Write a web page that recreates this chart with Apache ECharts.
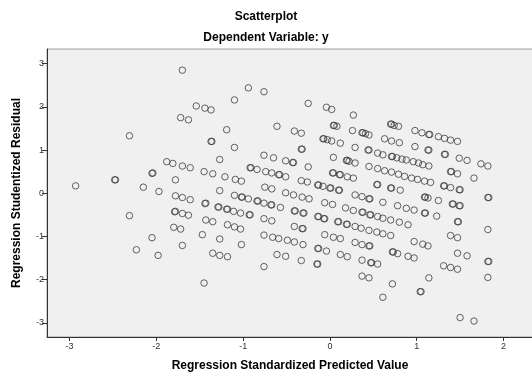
<!DOCTYPE html>
<html>
<head>
<meta charset="utf-8">
<script src="https://cdn.jsdelivr.net/npm/echarts@6/dist/echarts.min.js"></script>
<style>
  html, body { margin: 0; padding: 0; background: #fff; }
  #chart { width: 532px; height: 373px; }
</style>
</head>
<body>
<div id="chart"></div>
<script>
const xTicks = [-3, -2, -1, 0, 1, 2]
const yTicks = [-3, -2, -1, 0, 1, 2, 3]

// [standardized predicted value, studentized residual]
const farLeftPoints = [
  [-2.93, 0.17], [-2.48, 0.31], [-2.47, 0.31], [-2.31, 1.33], [-2.31, -0.52], [-2.23, -1.31],
  [-2.15, 0.14], [-2.05, 0.46], [-2.04, 0.47], [-2.05, -1.03], [-1.98, -1.44], [-1.97, 0.04],
  [-1.88, 0.73],
]

const leftPoints = [
  [-1.81, 0.69], [-1.78, 0.31], [-1.78, -0.06], [-1.79, -0.43], [-1.78, -0.42], [-1.80, -0.79],
  [-1.72, -0.83], [-1.70, 2.85], [-1.72, 1.75], [-1.63, 1.70], [-1.70, 0.63], [-1.61, 0.59],
  [-1.70, -0.10], [-1.61, -0.15], [-1.70, -0.47], [-1.63, -0.51], [-1.70, -1.21], [-1.54, 2.02],
  [-1.44, 1.97], [-1.37, 1.93], [-1.45, 0.50], [-1.35, 0.45], [-1.44, -0.24], [-1.43, -0.23],
  [-1.43, -0.62], [-1.35, -0.66], [-1.47, -0.96], [-1.45, -2.08], [-1.19, 1.47], [-1.37, 1.20],
  [-1.36, 1.20], [-1.10, 2.16], [-1.10, 1.06], [-1.27, 0.78], [-1.21, 0.38], [-1.09, 0.32],
  [-1.02, 0.28], [-1.27, 0.06], [-1.10, -0.05], [-1.02, -0.09], [-1.01, -0.09], [-0.94, -0.13],
  [-1.29, -0.32], [-1.28, -0.32], [-1.19, -0.37], [-1.18, -0.37], [-1.11, -0.42], [-1.03, -0.46],
  [-0.93, -0.50], [-0.92, -0.50], [-1.18, -0.73], [-1.10, -0.78], [-1.03, -0.83], [-1.27, -1.06],
  [-1.02, -1.19], [-1.35, -1.39], [-1.27, -1.44], [-1.18, -1.47], [-0.94, 2.44],
]

const middlePoints = [
  [-0.76, 2.35], [-0.25, 2.08], [-0.04, 1.99], [0.02, 1.94], [-0.61, 1.55], [-0.41, 1.44],
  [-0.33, 1.39], [0.04, 1.57], [0.05, 1.57], [0.08, 1.55], [-0.33, 1.02], [-0.32, 1.02],
  [-0.08, 1.26], [-0.07, 1.26], [-0.03, 1.24], [0.02, 1.21], [0.12, 1.16], [-0.76, 0.88],
  [-0.65, 0.82], [-0.51, 0.75], [-0.43, 0.71], [-0.42, 0.71], [-0.25, 0.61], [0.04, 0.83],
  [0.19, 0.76], [0.20, 0.76], [0.22, 0.74], [-0.92, 0.59], [-0.91, 0.59], [-0.84, 0.55],
  [-0.74, 0.50], [-0.67, 0.47], [-0.59, 0.43], [-0.58, 0.43], [-0.51, 0.38], [0.03, 0.47],
  [0.04, 0.47], [0.11, 0.43], [0.12, 0.43], [0.20, 0.38], [-0.33, 0.29], [-0.26, 0.26],
  [-0.14, 0.19], [-0.13, 0.19], [-0.08, 0.16], [0.00, 0.12], [0.01, 0.12], [0.10, 0.07],
  [0.11, 0.07], [-0.75, 0.14], [-0.67, 0.10], [-0.51, 0.01], [-0.42, -0.04], [-0.32, -0.09],
  [-0.24, -0.13], [-0.84, -0.18], [-0.83, -0.18], [-0.76, -0.23], [-0.68, -0.27], [-0.67, -0.27],
  [-0.57, -0.33], [-0.06, -0.22], [0.03, -0.26], [0.18, -0.34], [0.27, -0.40], [-0.41, -0.41],
  [-0.40, -0.41], [-0.31, -0.46], [-0.30, -0.46], [-0.76, -0.59], [-0.67, -0.64], [-0.14, -0.54],
  [-0.13, -0.54], [-0.07, -0.59], [-0.06, -0.59], [0.09, -0.66], [0.10, -0.66], [0.19, -0.72],
  [0.20, -0.72], [-0.41, -0.77], [-0.32, -0.82], [-0.31, -0.82], [-0.76, -0.97], [-0.66, -1.02],
  [-0.59, -1.05], [-0.49, -1.09], [-0.41, -1.13], [-0.31, -1.19], [-0.06, -0.96], [0.04, -1.02],
  [0.12, -1.05], [-0.14, -1.28], [-0.13, -1.28], [-0.04, -1.34], [0.12, -1.42], [0.20, -1.47],
  [-0.61, -1.42], [-0.51, -1.46], [-0.33, -1.56], [-0.15, -1.64], [-0.14, -1.64], [-0.76, -1.70],
]

const rightPoints = [
  [0.27, 1.81], [0.26, 1.45], [0.37, 1.40], [0.38, 1.40], [0.41, 1.38], [0.45, 1.35],
  [0.70, 1.60], [0.71, 1.60], [0.74, 1.57], [0.79, 1.55], [0.98, 1.45], [1.06, 1.40],
  [1.14, 1.36], [1.15, 1.36], [1.25, 1.31], [1.32, 1.27], [1.39, 1.23], [1.47, 1.20],
  [0.63, 1.26], [0.71, 1.21], [0.80, 1.17], [0.29, 1.06], [0.44, 1.00], [0.45, 1.00],
  [0.98, 1.08], [1.13, 1.00], [1.14, 1.00], [1.32, 0.90], [1.33, 0.90], [1.49, 0.81],
  [1.58, 0.76], [1.74, 0.68], [1.82, 0.63], [0.55, 0.93], [0.61, 0.89], [0.71, 0.85],
  [0.72, 0.85], [0.77, 0.82], [0.83, 0.79], [0.88, 0.77], [0.96, 0.73], [1.02, 0.70],
  [1.07, 0.66], [1.14, 0.63], [0.29, 0.70], [0.45, 0.62], [0.55, 0.57], [0.63, 0.52],
  [0.71, 0.49], [0.79, 0.44], [0.86, 0.39], [0.94, 0.35], [1.01, 0.32], [1.09, 0.28],
  [1.16, 0.25], [1.39, 0.50], [1.40, 0.50], [1.47, 0.45], [1.66, 0.35], [0.27, 0.35],
  [0.54, 0.20], [0.55, 0.20], [0.70, 0.12], [0.71, 0.12], [0.81, 0.07], [1.31, 0.17],
  [1.32, 0.17], [1.39, 0.13], [1.49, 0.08], [1.50, 0.08], [0.29, -0.04], [0.37, -0.08],
  [0.45, -0.13], [0.46, -0.13], [0.61, -0.21], [0.78, -0.29], [0.88, -0.35], [0.97, -0.39],
  [1.09, -0.46], [1.10, -0.46], [1.23, -0.53], [1.09, -0.09], [1.10, -0.09], [1.13, -0.11],
  [1.25, -0.17], [1.41, -0.25], [1.42, -0.25], [1.49, -0.29], [1.50, -0.29], [1.47, -0.66],
  [1.48, -0.66], [1.82, -0.10], [1.83, -0.10], [1.82, -0.84], [0.37, -0.44], [0.38, -0.44],
  [0.46, -0.50], [0.47, -0.50], [0.55, -0.54], [0.61, -0.58], [0.70, -0.62], [0.80, -0.67],
  [0.90, -0.73], [0.29, -0.77], [0.36, -0.81], [0.45, -0.86], [0.54, -0.90], [0.61, -0.94],
  [0.70, -0.98], [0.97, -1.12], [1.07, -1.18], [1.13, -1.22], [1.39, -0.98], [1.47, -1.03],
  [0.29, -1.14], [0.37, -1.19], [0.45, -1.22], [0.46, -1.22], [0.72, -1.36], [0.73, -1.36],
  [0.78, -1.40], [0.90, -1.46], [0.97, -1.50], [1.47, -1.39], [1.58, -1.45], [1.82, -1.58],
  [1.83, -1.58], [0.37, -1.55], [0.47, -1.61], [0.48, -1.61], [0.55, -1.64], [1.31, -1.68],
  [1.39, -1.72], [1.47, -1.76], [1.82, -1.95], [0.37, -1.92], [0.45, -1.96], [1.14, -1.96],
  [0.72, -2.10], [1.04, -2.28], [1.05, -2.28], [0.61, -2.41], [1.50, -2.88], [1.66, -2.96],
]

const points = [...farLeftPoints, ...leftPoints, ...middlePoints, ...rightPoints]

const font = '"Liberation Sans", Arial, sans-serif'
const chart = echarts.init(document.getElementById('chart'))

chart.setOption({
  animation: false,
  backgroundColor: '#fff',
  title: [
    {
      text: 'Scatterplot',
      left: 'center',
      top: 11,
      padding: 0,
      textStyle: { fontFamily: font, fontSize: 12, fontWeight: 'bold', color: '#000' },
    },
    {
      text: 'Dependent Variable: y',
      left: 'center',
      top: 32,
      padding: 0,
      textStyle: { fontFamily: font, fontSize: 12, fontWeight: 'bold', color: '#000' },
    },
  ],
  grid: {
    left: 47, top: 49, right: -1, bottom: 36,
    outerBoundsMode: 'none',
    containLabel: false,
    show: true,
    backgroundColor: '#f0f0f0',
    borderColor: '#a0a0a0',
    borderWidth: 1,
  },
  xAxis: {
    type: 'value',
    min: -3.26,
    max: 2.34,
    name: 'Regression Standardized Predicted Value',
    nameLocation: 'middle',
    nameGap: 23,
    nameTextStyle: { fontFamily: font, fontSize: 12, fontWeight: 'bold', color: '#000' },
    axisLine: { show: true, onZero: false, lineStyle: { color: '#333', width: 1 } },
    axisTick: { show: true, length: 4, customValues: xTicks, lineStyle: { color: '#333' } },
    axisLabel: { customValues: xTicks, fontFamily: font, fontSize: 9, color: '#333', margin: 5 },
    splitLine: { show: false },
  },
  yAxis: {
    type: 'value',
    min: -3.33,
    max: 3.34,
    name: 'Regression Studentized Residual',
    nameLocation: 'middle',
    nameGap: 24,
    nameTextStyle: { fontFamily: font, fontSize: 12, fontWeight: 'bold', color: '#000' },
    axisLine: { show: true, onZero: false, lineStyle: { color: '#333', width: 1 } },
    axisTick: { show: true, length: 5, customValues: yTicks, lineStyle: { color: '#333' } },
    axisLabel: { customValues: yTicks, fontFamily: font, fontSize: 9, color: '#333', margin: 3 },
    splitLine: { show: false },
  },
  series: [
    {
      type: 'scatter',
      data: points,
      symbol: 'circle',
      symbolSize: 6.5,
      itemStyle: { color: 'rgba(0,0,0,0)', borderColor: '#3c3c3c', borderWidth: 1 },
      emphasis: { disabled: true },
      silent: true,
    },
  ],
})
</script>
</body>
</html>
